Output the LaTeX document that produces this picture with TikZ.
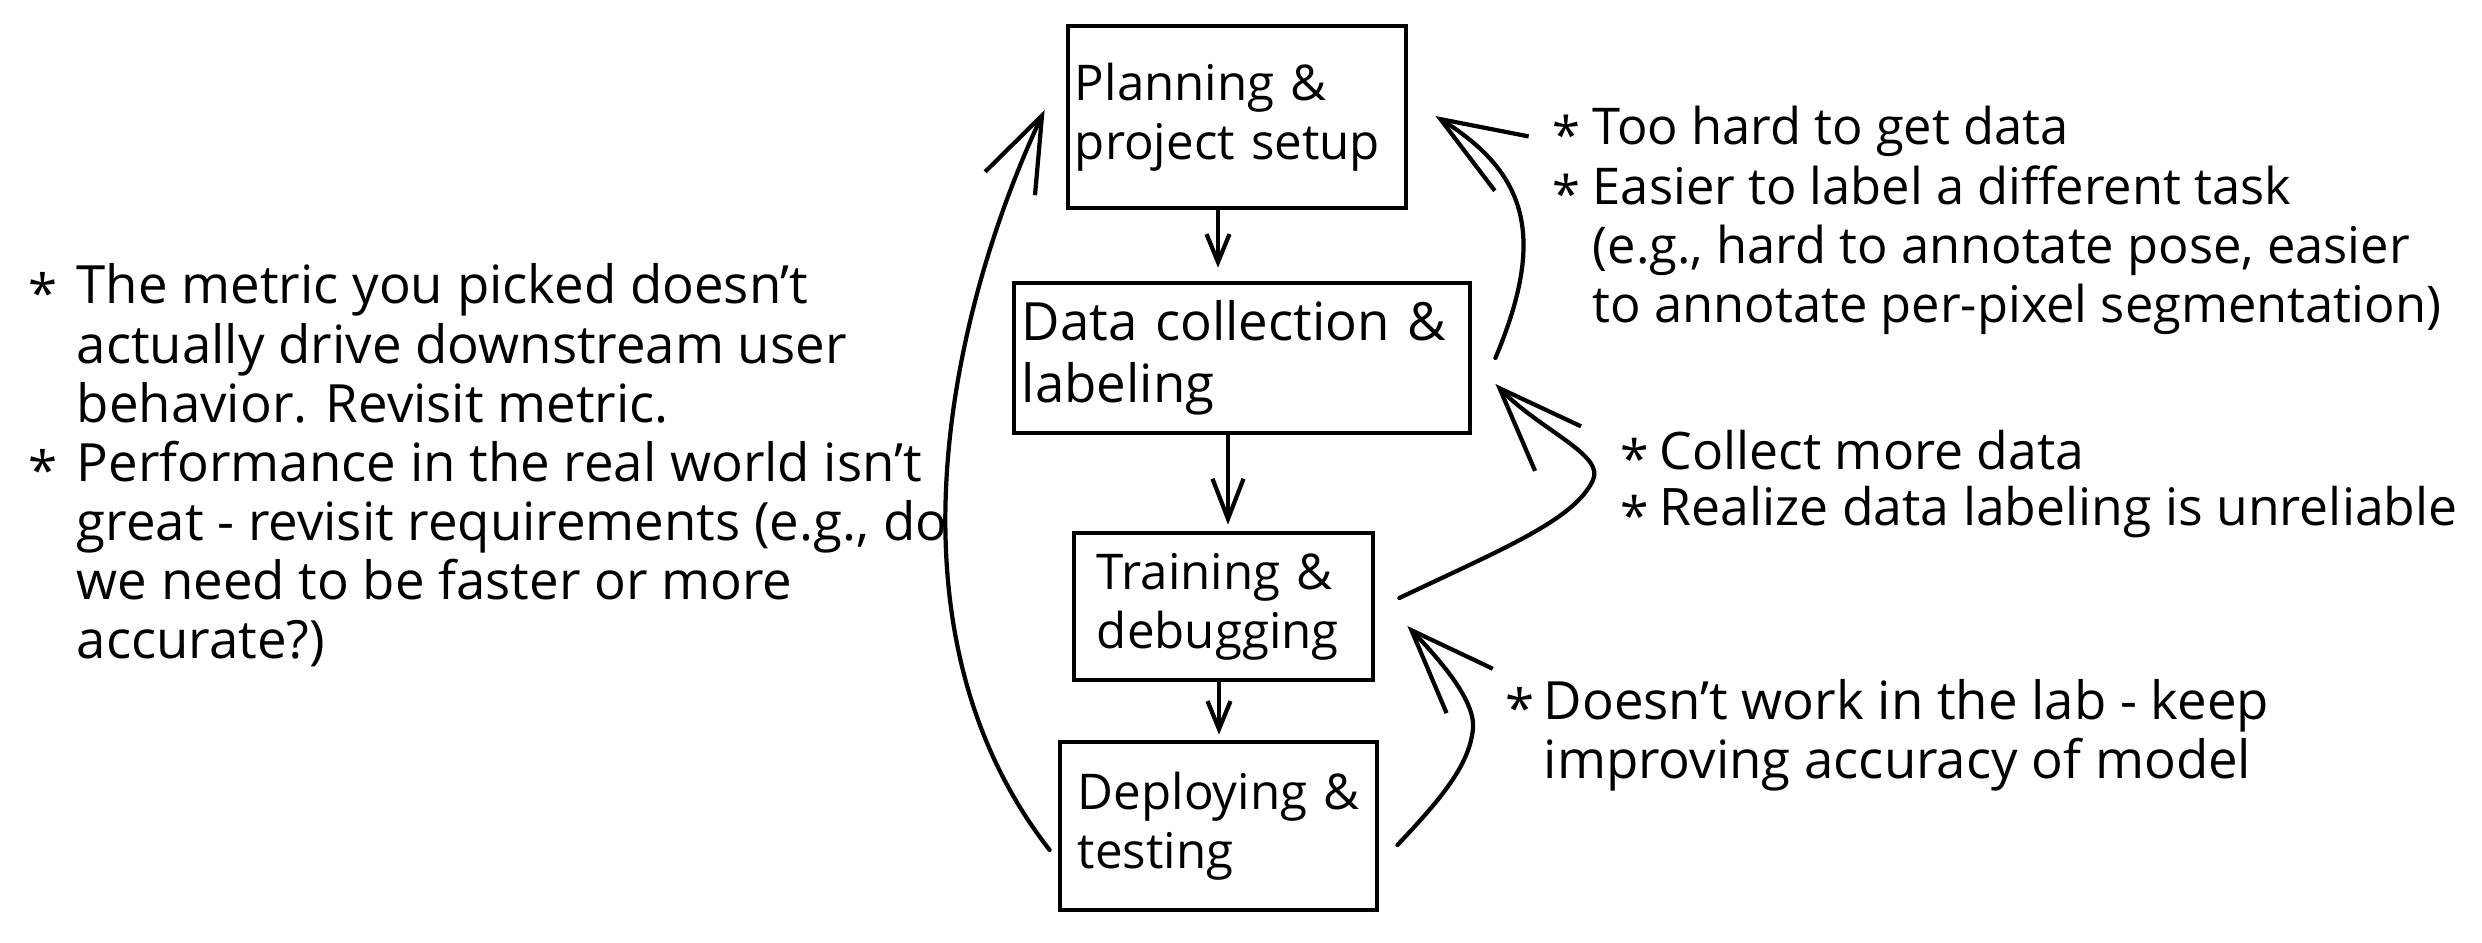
\documentclass[tikz,border=0pt]{standalone}
\usepackage{fontspec}
\setmainfont{Open Sans}
\usetikzlibrary{arrows.meta}
\newcommand{\bl}[1]{\makebox[#1][l]{\raisebox{-0.3ex}{*}}}
\tikzset{
  txt/.style={font=\fontsize{15pt}{16.8pt}\selectfont},
  box/.style={font=\fontsize{14pt}{16.8pt}\selectfont, draw, line width=1.3pt, rectangle, align=left, inner ysep=0pt},
  note/.style={txt, anchor=base west, inner sep=0pt},
  conn/.style={line width=1.2pt, line cap=round, line join=round},
  smalltip/.style={-{Straight Barb[length=2.8mm,width=2.3mm]}},
  midtip/.style={-{Straight Barb[length=4mm,width=3.1mm]}},
  bigtip/.style={-{Straight Barb[length=8.4mm,width=6.4mm]}},
  lefttip/.style={-{Straight Barb[length=7.5mm,width=5.5mm]}},
}
\begin{document}
\begin{tikzpicture}[x=0.01cm,y=-0.01cm]
\fill[white] (0,0) rectangle (2482,943);
\useasboundingbox (0,0) rectangle (2482,943);

% boxes
\node[box, minimum width=3.38cm, minimum height=1.82cm, text width=3.24cm, inner xsep=0.07cm] (plan) at (1237,117) {\mbox{Planning \&}\\\mbox{project setup}};
\node[box, font=\fontsize{15pt}{17.6pt}\selectfont, minimum width=4.56cm, minimum height=1.50cm, text width=4.40cm, inner xsep=0.08cm] (data) at (1242,358) {\mbox{Data collection \&}\\\mbox{labeling}};
\node[box, minimum width=2.99cm, minimum height=1.47cm, text width=2.53cm, inner xsep=0.23cm] (train) at (1223.5,606.5) {\mbox{Training \&}\\\mbox{debugging}};
\node[box, minimum width=3.17cm, minimum height=1.68cm, text width=2.81cm, inner xsep=0.18cm] (deploy) at (1218.5,826) {\mbox{Deploying \&}\\\mbox{testing}};

% straight arrows
\coordinate (a1) at ([xshift=-0.19cm]plan.south);
\coordinate (a2) at ([xshift=-0.14cm]data.south);
\coordinate (a3) at ([xshift=-0.045cm]train.south);
\draw[conn, smalltip, shorten >=0.13cm] (a1) -- (a1 |- data.north);
\draw[conn, midtip, shorten >=0.06cm] (a2) -- (a2 |- train.north);
\draw[conn, smalltip, shorten >=0.05cm] (a3) -- (a3 |- deploy.north);

% feedback arrows
\draw[conn, lefttip] ([shift={(-8,24)}]deploy.west) .. controls (870,620) and (960,290) .. ([shift={(-21,-7)}]plan.west);
\draw[conn, bigtip] ([shift={(23,0)}]data.east) .. controls (1545,240) and (1530,175) .. ([shift={(27,-1)}]plan.east);
\draw[conn, bigtip] ([shift={(24,-8.5)}]train.east) .. controls (1500,550) and (1575,520) .. (1593,480) .. controls (1605,455) and (1540,430) .. ([shift={(23,26)}]data.east);
\draw[conn, bigtip] ([shift={(18,19)}]deploy.east) .. controls (1440,800) and (1470,765) .. (1473,728) .. controls (1475,700) and (1440,660) .. ([shift={(32,19.5)}]train.east);

% notes
\node[note] (left) at (28,304) {\begin{tabular}[t]{@{}l@{}}
\bl{4.8mm}The metric you picked doesn't\\
\hspace*{4.8mm}actually drive downstream user\\
\hspace*{4.8mm}behavior. Revisit metric.\\
\bl{4.8mm}Performance in the real world isn't\\
\hspace*{4.8mm}great - revisit requirements (e.g., do\\
\hspace*{4.8mm}we need to be faster or more\\
\hspace*{4.8mm}accurate?)
\end{tabular}};

\node[note, font=\fontsize{14.4pt}{16.8pt}\selectfont] (rtop) at (1552,145) {\begin{tabular}[t]{@{}l@{}}
\bl{4.0mm}Too hard to get data\\
\bl{4.0mm}Easier to label a different task\\
\hspace*{4.0mm}(e.g., hard to annotate pose, easier\\
\hspace*{4.0mm}to annotate per-pixel segmentation)
\end{tabular}};

\node[note, font=\fontsize{14.7pt}{16.2pt}\selectfont] (rmid) at (1620,469) {\begin{tabular}[t]{@{}l@{}}
\bl{3.9mm}Collect more data\\
\bl{3.9mm}Realize data labeling is unreliable
\end{tabular}};

\node[note] (rbot) at (1505,719) {\begin{tabular}[t]{@{}l@{}}
\bl{3.8mm}Doesn't work in the lab - keep\\
\hspace*{3.8mm}improving accuracy of model
\end{tabular}};
\end{tikzpicture}
\end{document}
